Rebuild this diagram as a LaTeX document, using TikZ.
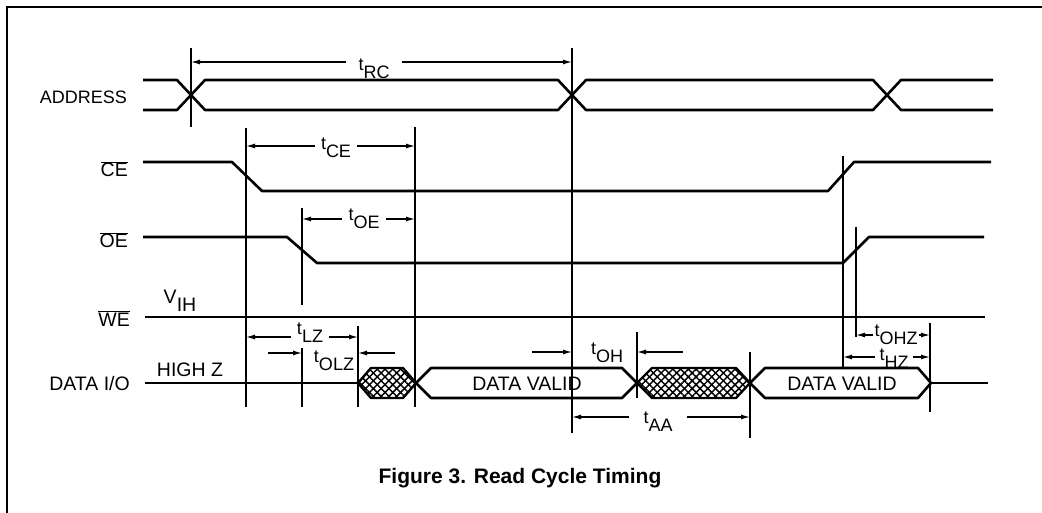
\documentclass[tikz,border=0pt]{standalone}
\usepackage{fontspec}
\setmainfont{Liberation Sans}
\usetikzlibrary{arrows.meta,patterns.meta}

\newcommand{\tlab}[1]{\raisebox{8pt}{t}#1}
\newcommand{\ovl}[1]{$\overline{\hbox{#1}}$}

\tikzset{
  sig/.style={line width=2.6pt, line join=round},
  tick/.style={line width=1.5pt},
  dim/.style={-{Latex[length=9pt,width=5pt]}, line width=1.2pt},
  lbl/.style={font=\fontsize{19.5}{21}\selectfont, inner sep=0pt},
  tlbl/.style={font=\fontsize{18}{20}\selectfont, inner xsep=6pt, inner ysep=0pt},
  hatch/.style={pattern={Lines[angle=45,distance=5.5pt,line width=1.5pt]},
    postaction={pattern={Lines[angle=-45,distance=5.5pt,line width=1.5pt]}},
    postaction={draw, line width=2.4pt, line join=round}}
}

\begin{document}
\begin{tikzpicture}[x=1pt, y=-1pt]
    \useasboundingbox (0,0) rectangle (1042,513);
    \draw[line width=1.8pt] (1042,7) -- (7,7) -- (7,513);

    % signal names
    \node[lbl, font=\fontsize{18}{20}\selectfont, anchor=base east] (addr) at (127,104) {ADDRESS};
    \node[lbl, anchor=base east] (ce) at (128,177) {\ovl{CE}};
    \node[lbl, anchor=base east] (oe) at (128,248) {\ovl{OE}};
    \node[lbl, anchor=base east] (we) at (130,326) {\ovl{WE}};
    \node[lbl, anchor=base east] (dio) at (130,390) {DATA I/O};
    \node[lbl] (vih) at (180,301) {V\raisebox{-8pt}{IH}};
    \node[lbl] (highz) at (190,370) {HIGH Z};

    % waveforms
    \draw[sig] (143,80) -- (177,80) -- (205,110) -- (558,110) -- (586,80) -- (873,80) -- (901,110) -- (993,110);
    \draw[sig] (143,110) -- (177,110) -- (205,80) -- (558,80) -- (586,110) -- (873,110) -- (901,80) -- (993,80);
    \draw[sig] (143,162) -- (232,162) -- (262,191) -- (828,191) -- (854,162) -- (991,162);
    \draw[sig] (143,237) -- (287,237) -- (317,263) -- (843,263) -- (869,237) -- (984,237);
    \draw[sig, line width=2.2pt] (145,317) -- (985,317);
    \draw[sig] (145,383) -- (358,383);
    \path[hatch] (358,383) -- (371,368) -- (403,368) -- (416,383) -- (403,398) -- (371,398) -- cycle;
    \draw[sig] (416,383) -- (431,368) -- (622,368) -- (637,383) -- (622,398) -- (431,398) -- cycle;
    \path[hatch] (637,383) -- (652,368) -- (736,368) -- (750,383) -- (736,398) -- (652,398) -- cycle;
    \draw[sig] (750,383) -- (765,368) -- (918,368) -- (931,383) -- (918,398) -- (765,398) -- cycle;
    \draw[sig] (931,383) -- (988,383);
    \node[lbl] (dv1) at (527,384) {DATA VALID};
    \node[lbl] (dv2) at (842,384) {DATA VALID};

    % timing marks
    \draw[tick] (191,48) -- (191,127);
    \draw[tick] (572,48) -- (572,433);
    \draw[tick] (246,128) -- (246,407);
    \draw[tick] (415,127) -- (415,407);
    \draw[tick] (302,208) -- (302,305);
    \draw[tick] (302,348) -- (302,407);
    \draw[tick] (358,326) -- (358,407);
    \draw[tick] (637,332) -- (637,398);
    \draw[tick] (750,352) -- (750,438);
    \draw[tick] (843,156) -- (843,367);
    \draw[tick] (856,227) -- (856,337);
    \draw[tick] (930,323) -- (930,412);

    % dimension arrows
    \coordinate (rcA) at (191,62);   \coordinate (rcB) at (572,62);
    \coordinate (ceA) at (246,146);  \coordinate (ceB) at (415,146);
    \coordinate (oeA) at (302,219);  \coordinate (oeB) at (415,219);
    \coordinate (lzA) at (246,337);  \coordinate (lzB) at (358,337);
    \coordinate (olzA) at (302,353); \coordinate (olzB) at (358,353);
    \coordinate (olzC) at (268,353); \coordinate (olzD) at (395,353);
    \coordinate (ohA) at (572,352);  \coordinate (ohB) at (637,352);
    \coordinate (ohC) at (532,352);  \coordinate (ohD) at (683,352);
    \coordinate (aaA) at (572,417);  \coordinate (aaB) at (750,417);
    \coordinate (ohzA) at (856,335); \coordinate (ohzB) at (930,335);
    \coordinate (hzA) at (843,357);  \coordinate (hzB) at (930,357);

    \node[tlbl, inner xsep=12pt] (tRC) at (374,69) {\tlab{RC}};
    \node[tlbl] (tCE) at (336,148) {\tlab{CE}};
    \node[tlbl] (tOE) at (364,219) {\tlab{OE}};
    \node[tlbl] (tLZ) at (310,333) {\tlab{LZ}};
    \node[tlbl] (tOLZ) at (334,361) {\tlab{OLZ}};
    \node[tlbl] (tOH) at (607,353) {\tlab{OH}};
    \node[tlbl, inner xsep=14pt] (tAA) at (658,422) {\tlab{AA}};
    \node[tlbl, inner xsep=1pt] (tOHZ) at (896,335) {\tlab{OHZ}};
    \node[tlbl, inner xsep=4pt] (tHZ) at (894,359) {\tlab{HZ}};

    \draw[dim] (tRC.west |- rcA) -- (rcA);
    \draw[dim] (tRC.east |- rcB) -- (rcB);
    \draw[dim] (tCE.west |- ceA) -- (ceA);
    \draw[dim] (tCE.east |- ceB) -- (ceB);
    \draw[dim] (tOE.west |- oeA) -- (oeA);
    \draw[dim] (tOE.east |- oeB) -- (oeB);
    \draw[dim] (tLZ.west |- lzA) -- (lzA);
    \draw[dim] (tLZ.east |- lzB) -- (lzB);
    \draw[dim] (olzC) -- (olzA);
    \draw[dim] (olzD) -- (olzB);
    \draw[dim] (ohC) -- (ohA);
    \draw[dim] (ohD) -- (ohB);
    \draw[dim] (tAA.west |- aaA) -- (aaA);
    \draw[dim] (tAA.east |- aaB) -- (aaB);
    \draw[dim] (tOHZ.west |- ohzA) -- (ohzA);
    \draw[dim] (tOHZ.east |- ohzB) -- (ohzB);
    \draw[dim] (tHZ.west |- hzA) -- (hzA);
    \draw[dim] (tHZ.east |- hzB) -- (hzB);

    \node[font=\fontsize{21}{23}\selectfont\bfseries] (cap) at (520,478) {Figure 3. Read Cycle Timing};
\end{tikzpicture}
\end{document}
